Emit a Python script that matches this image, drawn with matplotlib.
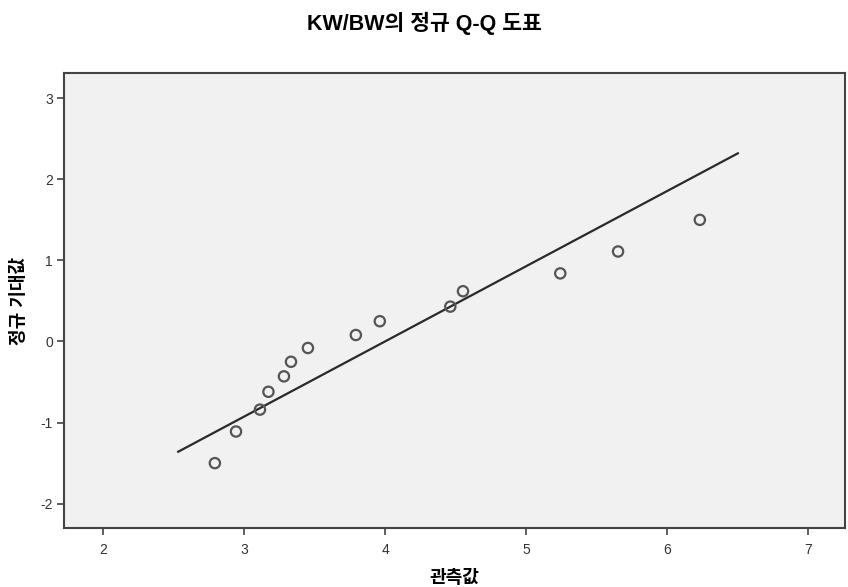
import numpy as np
import matplotlib
matplotlib.use("Agg")
import matplotlib.pyplot as plt

plt.rcParams['font.family'] = ['Liberation Sans', 'Noto Sans CJK KR', 'DejaVu Sans']
plt.rcParams['axes.unicode_minus'] = False

# observed values (관측값) and normal expected values (정규 기대값)
observed = [2.79, 2.94, 3.11, 3.17, 3.28, 3.33, 3.45, 3.79, 3.96, 4.46, 4.55, 5.24, 5.65, 6.23]
expected = [-1.50, -1.11, -0.84, -0.62, -0.43, -0.25, -0.08, 0.08, 0.25, 0.43, 0.62, 0.84, 1.11, 1.50]
line_x = [2.53, 6.50]

xticks = [2, 3, 4, 5, 6, 7]
yticks = [-2, -1, 0, 1, 2, 3]

obs = np.array(observed)
mu = obs.mean()
sd = obs.std(ddof=1)
lx = np.array(line_x)
ly = (lx - mu) / sd

fig = plt.figure(figsize=(8.48, 5.87), dpi=100)
ax = fig.add_axes([0.0755, 0.1005, 0.921, 0.775])
ax.set_facecolor('#f1f1f1')

ax.plot(lx, ly, color='#2a2a2a', lw=1.6)
ax.scatter(obs, expected, s=55, facecolors='none', edgecolors='#555555', linewidths=1.6, zorder=3)

ax.set_xlim(1.72, 7.26)
ax.set_ylim(-2.30, 3.31)
ax.set_xticks(xticks)
ax.set_yticks(yticks)
ax.tick_params(direction='out', length=5, width=1.2, color='#444444',
               labelsize=10, labelcolor='#333333')
ax.tick_params(axis='x', pad=6)
ax.tick_params(axis='y', pad=3)
for s in ax.spines.values():
    s.set_color('#444444')
    s.set_linewidth(1.5)

ax.set_xlabel('관측값', fontsize=13, fontweight='bold', labelpad=9)
ax.set_ylabel('정규 기대값', fontsize=13, fontweight='bold', labelpad=9)
fig.suptitle('KW/BW의 정규 Q-Q 도표', fontsize=15.5, fontweight='bold', y=0.98)

fig.savefig('out.png', dpi=100)
